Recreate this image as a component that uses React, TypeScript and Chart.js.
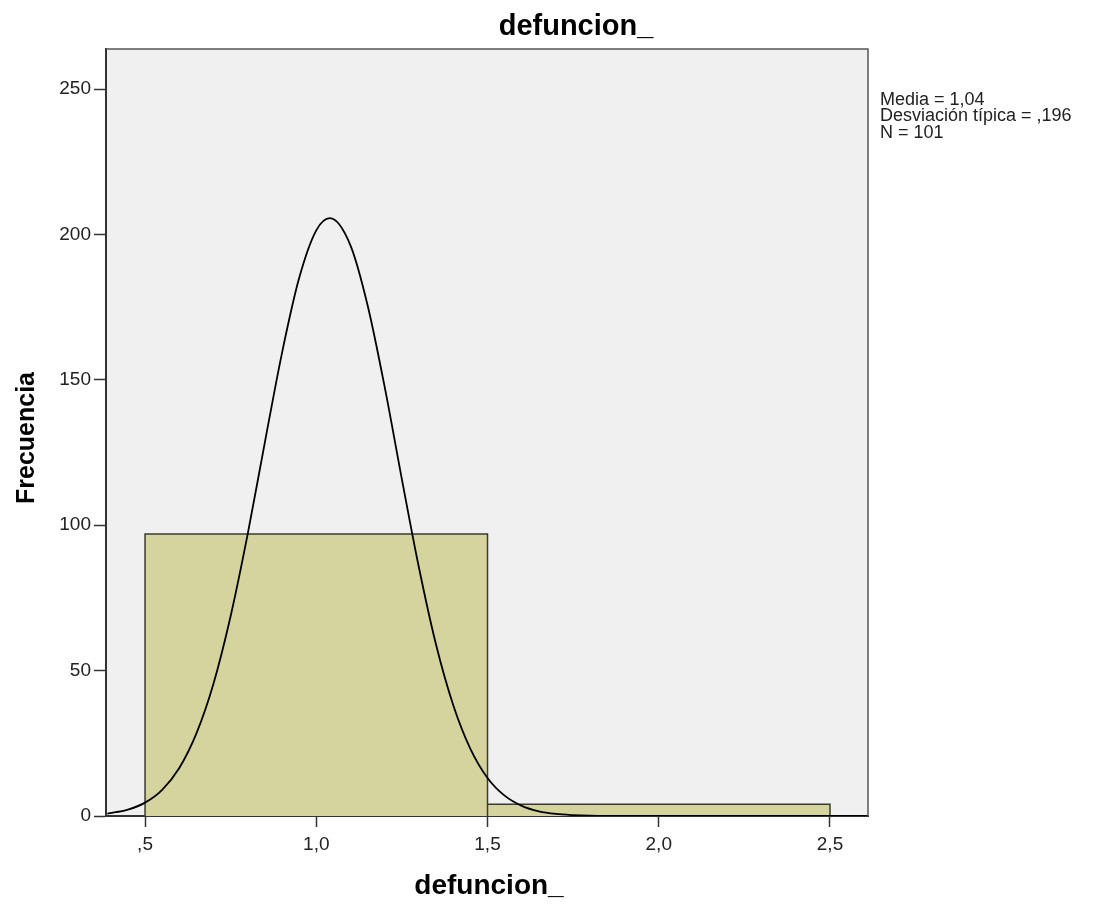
import React, { useEffect, useRef } from "react";
import { Chart, registerables } from "chart.js";

Chart.register(...registerables);

// Histogram bins (edges) and counts
const binStarts = [0.5, 1.5];
const binEnds = [1.5, 2.5];
const binCounts = [97, 4];

// Normal curve (x, frequency)
const curveX = [0.39, 0.45, 0.5, 0.55, 0.6, 0.65, 0.7, 0.75, 0.8, 0.85, 0.9, 0.95, 1.0, 1.04, 1.1, 1.15, 1.2, 1.25, 1.3, 1.35, 1.4, 1.45, 1.5, 1.55, 1.6, 1.65, 1.7, 1.75, 1.8, 1.9, 2.0, 2.61];
const curveY = [0.8, 2.2, 4.6, 9.0, 16.5, 28.4, 45.6, 68.8, 97.1, 128.6, 159.3, 185.0, 201.4, 205.6, 196.2, 175.6, 147.4, 115.8, 85.3, 58.8, 38.1, 23.1, 13.1, 7.0, 3.5, 1.6, 0.7, 0.3, 0.1, 0, 0, 0];

const xTicks = [0.5, 1.0, 1.5, 2.0, 2.5];
const xTickLabels = [",5", "1,0", "1,5", "2,0", "2,5"];
const yTicks = [0, 50, 100, 150, 200, 250];

const titleText = "defuncion_";
const xTitle = "defuncion_";
const yTitle = "Frecuencia";
const statsLines = ["Media = 1,04", "Desviación típica = ,196", "N = 101"];

const FONT = "'Liberation Sans', Arial, sans-serif";

export default function App() {
  const ref = useRef<HTMLCanvasElement | null>(null);

  useEffect(() => {
    if (!ref.current) return;

    const bgPlugin = {
      id: "bgPlugin",
      beforeDraw(chart: any) {
        const { ctx, chartArea: a } = chart;
        ctx.save();
        ctx.fillStyle = "#ffffff";
        ctx.fillRect(0, 0, chart.width, chart.height);
        ctx.fillStyle = "#f0f0f0";
        ctx.fillRect(a.left, a.top, a.right - a.left, a.bottom - a.top);
        ctx.restore();
      },
      afterDraw(chart: any) {
        const { ctx, chartArea: a } = chart;
        ctx.save();
        ctx.strokeStyle = "#555555";
        ctx.lineWidth = 1.5;
        ctx.beginPath();
        ctx.moveTo(a.left, a.top);
        ctx.lineTo(a.right, a.top);
        ctx.lineTo(a.right, a.bottom);
        ctx.stroke();
        ctx.fillStyle = "#000000";
        ctx.textAlign = "center";
        ctx.textBaseline = "alphabetic";
        ctx.font = `bold 29px ${FONT}`;
        ctx.fillText(titleText, 576, 35);
        ctx.font = `bold 28px ${FONT}`;
        ctx.fillText(xTitle, 489, 894);
        ctx.save();
        ctx.translate(34, 438);
        ctx.rotate(-Math.PI / 2);
        ctx.font = `bold 25px ${FONT}`;
        ctx.fillText(yTitle, 0, 0);
        ctx.restore();
        ctx.textAlign = "left";
        ctx.textBaseline = "middle";
        ctx.font = `18px ${FONT}`;
        ctx.fillStyle = "#222222";
        statsLines.forEach((s, i) => ctx.fillText(s, 880, 100 + i * 16.5));
        ctx.restore();
      },
    };

    // Outline of the histogram built from bin edges and counts
    const histPoints: { x: number; y: number }[] = [];
    binCounts.forEach((c, i) => {
      histPoints.push({ x: binStarts[i], y: 0 });
      histPoints.push({ x: binStarts[i], y: c });
      histPoints.push({ x: binEnds[i], y: c });
      histPoints.push({ x: binEnds[i], y: 0 });
    });

    const chart = new Chart(ref.current, {
      type: "line",
      data: {
        datasets: [
          {
            label: "Normal",
            data: curveX.map((x, i) => ({ x, y: curveY[i] })),
            borderColor: "#000000",
            borderWidth: 1.8,
            pointRadius: 0,
            fill: false,
            cubicInterpolationMode: "monotone",
            order: 0,
          } as any,
          {
            label: "Frecuencia",
            data: histPoints,
            backgroundColor: "#d5d49e",
            borderColor: "#3b3b2a",
            borderWidth: 1.5,
            pointRadius: 0,
            tension: 0,
            fill: "origin",
            order: 1,
          } as any,
        ],
      },
      options: {
        responsive: false,
        animation: false,
        devicePixelRatio: 1,
        layout: { padding: { left: 0, right: 237, top: 49, bottom: 0 } },
        plugins: {
          legend: { display: false },
          title: { display: false },
          tooltip: { enabled: false },
          filler: { propagate: false },
        },
        scales: {
          x: {
            type: "linear",
            min: 0.386,
            max: 2.611,
            offset: false,
            afterFit(scale: any) {
              scale.height = 89;
            },
            afterBuildTicks(scale: any) {
              scale.ticks = xTicks.map((v) => ({ value: v }));
            },
            ticks: {
              autoSkip: false,
              maxRotation: 0,
              padding: 6,
              color: "#222222",
              font: { family: FONT, size: 19 },
              callback: (v: any) => {
                const i = xTicks.indexOf(Number(v));
                return i >= 0 ? xTickLabels[i] : "";
              },
            },
            grid: {
              display: true,
              offset: false,
              drawOnChartArea: false,
              drawTicks: true,
              tickLength: 11,
              tickColor: "#333333",
              tickWidth: 1.5,
            },
            border: { display: true, color: "#333333", width: 2 },
          },
          y: {
            type: "linear",
            min: 0,
            max: 263.8,
            afterFit(scale: any) {
              scale.width = 106;
            },
            afterBuildTicks(scale: any) {
              scale.ticks = yTicks.map((v) => ({ value: v }));
            },
            ticks: {
              padding: 3,
              color: "#222222",
              font: { family: FONT, size: 19 },
            },
            grid: {
              display: true,
              drawOnChartArea: false,
              drawTicks: true,
              tickLength: 12,
              tickColor: "#333333",
              tickWidth: 1.5,
            },
            border: { display: true, color: "#333333", width: 2 },
          },
        },
      } as any,
      plugins: [bgPlugin],
    });

    return () => chart.destroy();
  }, []);

  return (
    <div style={{ position: "absolute", left: 0, top: 0, width: 1105, height: 905, background: "#fff" }}>
      <canvas ref={ref} width={1105} height={905} style={{ display: "block" }} />
    </div>
  );
}
